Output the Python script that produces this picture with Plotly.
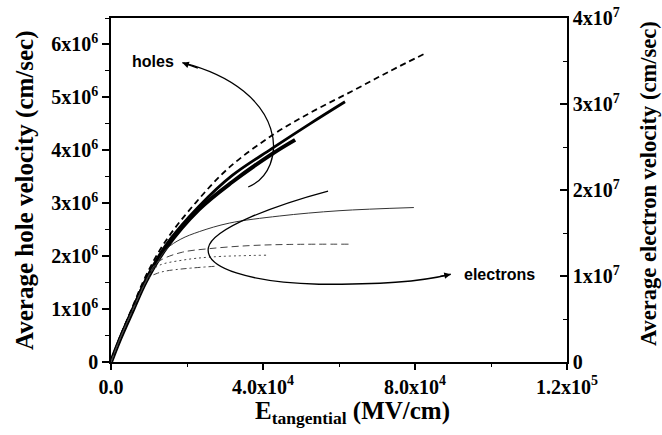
import plotly.graph_objects as go

# ---------------- data ----------------
# Holes, left axis (cm/sec) vs E_tangential (MV/cm)
holes_dash_x = [0, 2180, 5672, 9191, 14443, 22321, 31118, 42410, 52914, 63418, 73134, 83113]
holes_dash_y = [0, 4.36e5, 1.042e6, 1.630e6, 2.293e6, 3.013e6, 3.676e6, 4.283e6, 4.728e6, 5.117e6,
                5.486e6, 5.846e6]

holes_mid_x = [0, 2180, 5672, 9191, 14443, 23109, 31906, 42410, 52520, 61580]
holes_mid_y = [0, 4.17e5, 9.95e5, 1.563e6, 2.208e6, 2.937e6, 3.525e6, 4.036e6, 4.510e6, 4.918e6]

holes_thick_x = [0, 2180, 5672, 9191, 14443, 23109, 31906, 42410, 48450]
holes_thick_y = [0, 3.98e5, 9.66e5, 1.525e6, 2.151e6, 2.880e6, 3.401e6, 3.932e6, 4.197e6]

# Electrons, right axis (cm/sec)
elec_solid_x = [0, 2180, 5672, 9191, 11817, 14706, 18382, 23240, 31118, 44249, 60003, 79700]
elec_solid_y = [0, 2.507e6, 6.006e6, 9.388e6, 1.131e7, 1.318e7, 1.429e7, 1.516e7, 1.615e7, 1.697e7,
                1.759e7, 1.796e7]

elec_dash_x = [0, 2180, 5672, 9191, 11423, 13524, 18776, 25866, 36370, 46874, 62630]
elec_dash_y = [0, 2.507e6, 6.006e6, 9.388e6, 1.125e7, 1.195e7, 1.277e7, 1.318e7, 1.353e7, 1.367e7, 1.370e7]

elec_dot_x = [0, 2180, 5672, 9191, 10635, 12736, 18776, 26654, 40834]
elec_dot_y = [0, 2.507e6, 6.006e6, 9.388e6, 1.055e7, 1.125e7, 1.184e7, 1.222e7, 1.242e7]

elec_dashdot_x = [0, 2180, 5672, 8797, 10110, 12211, 14575, 19826, 27705]
elec_dashdot_y = [0, 2.507e6, 6.006e6, 9.038e6, 9.854e6, 1.032e7, 1.059e7, 1.087e7, 1.114e7]

# Tick labels
x_tickvals = [0, 40000, 80000, 120000]
x_ticktext = ["0.0", "4.0x10<sup>4</sup>", "8.0x10<sup>4</sup>", "1.2x10<sup>5</sup>"]
y_tickvals = [0, 1e6, 2e6, 3e6, 4e6, 5e6, 6e6]
y_ticktext = ["0"] + ["%dx10<sup>6</sup>" % i for i in range(1, 7)]
y2_tickvals = [0, 1e7, 2e7, 3e7, 4e7]
y2_ticktext = ["0"] + ["%dx10<sup>7</sup>" % i for i in range(1, 5)]

# Annotation arrows (curved pointers), in data units of x / left y axis
holes_arrow = [(36108, 3.307e6), (46874, 3.629e6), (46874, 5.145e6), (18776, 5.656e6)]
elec_arrow = [(57116, 3.231e6), (44249, 2.985e6), (26391, 2.530e6), (25603, 2.151e6),
              (24815, 1.772e6), (36370, 1.507e6), (54752, 1.469e6),
              (70508, 1.469e6), (81012, 1.507e6), (89415, 1.658e6)]

# ---------------- figure ----------------
fig = go.Figure()

fig.add_trace(go.Scatter(x=holes_dash_x, y=holes_dash_y, mode="lines",
                         line=dict(color="black", width=1.8, dash="6px,4px", shape="spline"),
                         showlegend=False))
fig.add_trace(go.Scatter(x=holes_mid_x, y=holes_mid_y, mode="lines",
                         line=dict(color="black", width=2.8, shape="spline"), showlegend=False))
fig.add_trace(go.Scatter(x=holes_thick_x, y=holes_thick_y, mode="lines",
                         line=dict(color="black", width=4, shape="spline"), showlegend=False))

fig.add_trace(go.Scatter(x=elec_solid_x, y=elec_solid_y, mode="lines", yaxis="y2",
                         line=dict(color="#333333", width=1, shape="spline"), showlegend=False))
fig.add_trace(go.Scatter(x=elec_dash_x, y=elec_dash_y, mode="lines", yaxis="y2",
                         line=dict(color="#444444", width=1, dash="7px,4px", shape="spline"),
                         showlegend=False))
fig.add_trace(go.Scatter(x=elec_dot_x, y=elec_dot_y, mode="lines", yaxis="y2",
                         line=dict(color="#444444", width=1, dash="2px,3px", shape="spline"),
                         showlegend=False))
fig.add_trace(go.Scatter(x=elec_dashdot_x, y=elec_dashdot_y, mode="lines", yaxis="y2",
                         line=dict(color="#444444", width=1, dash="6px,3px,2px,3px", shape="spline"),
                         showlegend=False))


def cubic_path(pts):
    s = "M %g,%g" % pts[0]
    rest = pts[1:]
    for i in range(0, len(rest), 3):
        seg = rest[i:i + 3]
        s += " C " + " ".join("%g,%g" % p for p in seg)
    return s


shapes = [
    dict(type="path", xref="x", yref="y", path=cubic_path(holes_arrow),
         line=dict(color="black", width=1.3)),
    dict(type="path", xref="x", yref="y", path=cubic_path(elec_arrow),
         line=dict(color="black", width=1.3)),
]

serif = dict(family="Liberation Serif, Times New Roman, serif", color="black", weight="bold")
sans = dict(family="Liberation Sans, Arial, sans-serif", color="black", size=16, weight="bold")

annotations = [
    # arrow heads
    dict(x=holes_arrow[-1][0], y=holes_arrow[-1][1], xref="x", yref="y", text="",
         showarrow=True, ax=17, ay=6, arrowhead=2, arrowsize=1, arrowwidth=1.3, arrowcolor="black"),
    dict(x=elec_arrow[-1][0], y=elec_arrow[-1][1], xref="x", yref="y", text="",
         showarrow=True, ax=-12, ay=2.5, arrowhead=2, arrowsize=1, arrowwidth=1.3, arrowcolor="black"),
    # labels
    dict(x=153, y=61, xref="paper", yref="paper", text="holes", showarrow=False, font=sans,
         xanchor="center", yanchor="middle"),
    dict(x=462, y=274, xref="paper", yref="paper", text="electrons", showarrow=False,
         xanchor="left", yanchor="middle", font=sans),
    # axis titles
    dict(x=352, y=412, xref="paper", yref="paper", text="E<sub>tangential</sub> (MV/cm)",
         showarrow=False, xanchor="center", yanchor="middle", font=dict(size=25, **serif)),
    dict(x=25, y=190, xref="paper", yref="paper", text="Average hole velocity (cm/sec)",
         textangle=-90, showarrow=False, xanchor="center", yanchor="middle",
         font=dict(size=25, **serif)),
    dict(x=648, y=184, xref="paper", yref="paper", text="Average electron velocity (cm/sec)",
         textangle=-90, showarrow=False, xanchor="center", yanchor="middle",
         font=dict(size=22.5, **serif)),
]

# convert pixel placements of text annotations to paper coordinates
L, R, T, B = 111, 95, 18, 73
W, H = 662, 435
pw, ph = W - L - R, H - T - B
for a in annotations:
    if a["xref"] == "paper":
        a["x"] = (a["x"] - L) / pw
        a["y"] = (H - B - a["y"]) / ph

fig.update_layout(
    width=W, height=H,
    margin=dict(l=L, r=R, t=T, b=B, autoexpand=False),
    plot_bgcolor="white", paper_bgcolor="white",
    shapes=shapes, annotations=annotations,
    xaxis=dict(range=[0, 120000], tickvals=x_tickvals, ticktext=x_ticktext, automargin=False,
               showgrid=False, zeroline=False, showline=True, linecolor="black", linewidth=1.5,
               mirror=True, ticks="outside", ticklen=6, tickwidth=1.5, tickcolor="black",
               minor=dict(dtick=20000, tick0=0, ticks="outside", ticklen=3, tickcolor="black",
                          tickwidth=1.2),
               tickfont=dict(size=20, **serif)),
    yaxis=dict(range=[0, 6.5e6], tickvals=y_tickvals, ticktext=y_ticktext, automargin=False,
               showgrid=False, zeroline=False, showline=True, linecolor="black", linewidth=1.5,
               ticks="outside", ticklen=7, tickwidth=1.5, tickcolor="black",
               minor=dict(dtick=5e5, tick0=0, ticks="outside", ticklen=4, tickcolor="black",
                          tickwidth=1.2),
               tickfont=dict(size=20, **serif)),
    yaxis2=dict(range=[0, 4e7], overlaying="y", side="right", tickvals=y2_tickvals,
                ticktext=y2_ticktext, automargin=False, showgrid=False, zeroline=False,
                showline=True, linecolor="black", linewidth=1.5, ticks="inside", ticklen=7,
                tickwidth=1.5, tickcolor="black",
                minor=dict(dtick=5e6, tick0=0, ticks="inside", ticklen=4, tickcolor="black",
                           tickwidth=1.2),
                tickfont=dict(size=20, **serif)),
)

fig.write_html("out.html")
